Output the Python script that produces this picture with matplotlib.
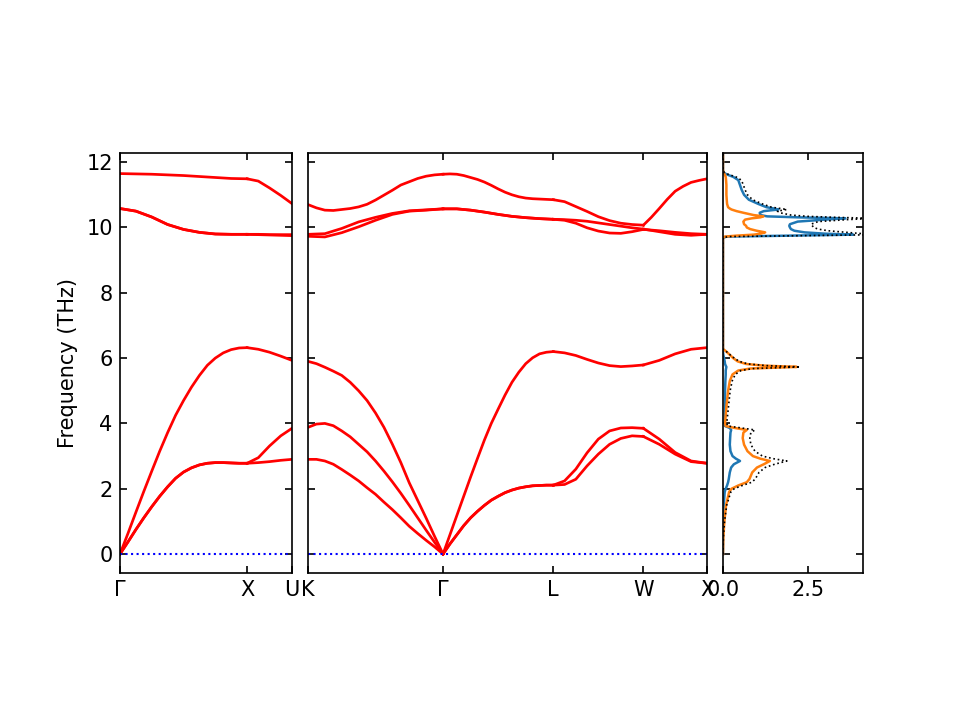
import matplotlib.pyplot as plt
import numpy as np

# Path segment lengths (2pi/a units), fcc: G-X, X-U | K-G, G-L, L-W, W-X
len_GX = 1.0
len_XU = np.sqrt(2) / 4
len_KG = 3 * np.sqrt(2) / 4
len_GL = np.sqrt(3) / 2
len_LW = np.sqrt(2) / 2
len_WX = 0.5

# Band frequencies (THz) read along each segment, one row per branch
# (points are evenly spaced along the segment)
band_GX = [
    [0, 0.37, 0.75, 1.11, 1.45, 1.77, 2.06, 2.32, 2.51, 2.64, 2.73, 2.78, 2.80, 2.80, 2.79, 2.78, 2.78],
    [0, 0.37, 0.75, 1.11, 1.45, 1.77, 2.06, 2.32, 2.51, 2.64, 2.73, 2.78, 2.80, 2.80, 2.79, 2.78, 2.78],
    [0, 0.63, 1.28, 1.92, 2.54, 3.15, 3.72, 4.25, 4.70, 5.11, 5.47, 5.78, 6.00, 6.16, 6.26, 6.31, 6.32],
    [10.58, 10.50, 10.32, 10.09, 9.94, 9.85, 9.80, 9.79, 9.79],
    [10.58, 10.50, 10.32, 10.09, 9.94, 9.85, 9.80, 9.79, 9.79],
    [11.65, 11.64, 11.63, 11.61, 11.59, 11.56, 11.53, 11.50, 11.49],
]
band_XU = [
    [2.78, 2.80, 2.83, 2.87, 2.90],
    [2.78, 2.95, 3.31, 3.62, 3.85],
    [6.32, 6.27, 6.18, 6.06, 5.93],
    [9.79, 9.78, 9.77, 9.76, 9.75],
    [9.79, 9.79, 9.78, 9.78, 9.78],
    [11.49, 11.42, 11.21, 10.98, 10.73],
]
band_KG = [
    [2.90, 2.90, 2.85, 2.75, 2.59, 2.42, 2.24, 2.03, 1.83, 1.59, 1.36, 1.11, 0.85, 0.63, 0.42, 0.22, 0],
    [3.88, 3.98, 4.00, 3.93, 3.77, 3.59, 3.36, 3.13, 2.85, 2.54, 2.21, 1.86, 1.49, 1.11, 0.73, 0.36, 0],
    [5.90, 5.83, 5.72, 5.60, 5.47, 5.26, 5.00, 4.70, 4.32, 3.88, 3.36, 2.80, 2.18, 1.64, 1.10, 0.54, 0],
    [9.73, 9.71, 9.84, 10.02, 10.22, 10.40, 10.50, 10.53, 10.57],
    [9.79, 9.81, 9.97, 10.17, 10.31, 10.43, 10.51, 10.54, 10.57],
    [10.70, 10.60, 10.53, 10.52, 10.55, 10.58, 10.63, 10.71, 10.84, 10.99, 11.14, 11.30, 11.40, 11.50, 11.57, 11.61, 11.63],
]
band_GL = [
    [0, 0.31, 0.59, 0.87, 1.11, 1.31, 1.49, 1.65, 1.77, 1.88, 1.96, 2.02, 2.06, 2.09, 2.10, 2.11, 2.11],
    [0, 0.31, 0.59, 0.87, 1.11, 1.31, 1.49, 1.65, 1.77, 1.88, 1.96, 2.02, 2.06, 2.09, 2.10, 2.11, 2.11],
    [0, 0.59, 1.18, 1.77, 2.36, 2.93, 3.49, 4.00, 4.44, 4.87, 5.26, 5.57, 5.83, 6.01, 6.13, 6.18, 6.20],
    [10.57, 10.57, 10.53, 10.47, 10.40, 10.34, 10.30, 10.27, 10.25],
    [10.57, 10.57, 10.53, 10.47, 10.40, 10.34, 10.30, 10.27, 10.25],
    [11.63, 11.64, 11.63, 11.59, 11.53, 11.47, 11.39, 11.29, 11.18, 11.08, 11.00, 10.94, 10.90, 10.88, 10.87, 10.86, 10.85],
]
band_LW = [
    [2.11, 2.13, 2.29, 2.70, 3.06, 3.36, 3.54, 3.62, 3.60],
    [2.11, 2.24, 2.60, 3.10, 3.52, 3.77, 3.86, 3.87, 3.85],
    [6.20, 6.16, 6.08, 5.96, 5.85, 5.77, 5.74, 5.76, 5.79],
    [10.25, 10.22, 10.13, 9.99, 9.89, 9.83, 9.82, 9.87, 9.94],
    [10.25, 10.24, 10.22, 10.19, 10.14, 10.09, 10.04, 9.99, 9.95],
    [10.85, 10.79, 10.64, 10.49, 10.33, 10.21, 10.13, 10.09, 10.07],
]
band_WX = [
    [3.60, 3.36, 3.06, 2.83, 2.78],
    [3.85, 3.52, 3.11, 2.85, 2.78],
    [5.79, 5.93, 6.13, 6.27, 6.32],
    [9.94, 9.90, 9.85, 9.81, 9.79],
    [9.95, 9.87, 9.79, 9.76, 9.79],
    [10.07, 10.31, 10.58, 10.86, 11.11, 11.26, 11.38, 11.44, 11.49],
]

labels_1 = ['$\\Gamma$', 'X', 'U']
labels_2 = ['K', '$\\Gamma$', 'L', 'W', 'X']

# Partial DOS (two atoms) on a frequency grid
dos_freq = [0, 0.5, 1.0, 1.5, 1.9, 2.0, 2.1, 2.2, 2.3, 2.5, 2.65, 2.75, 2.85, 2.92,
            3.0, 3.15, 3.35, 3.55, 3.72, 3.8, 3.86, 3.92, 4.0, 4.5, 5.0, 5.3, 5.5,
            5.62, 5.68, 5.73, 5.77, 5.82, 5.9, 6.0, 6.1, 6.2, 6.28, 6.35, 9.68,
            9.72, 9.75, 9.78, 9.81, 9.85, 9.9, 9.95, 10.0, 10.05, 10.1, 10.18,
            10.24, 10.28, 10.31, 10.34, 10.38, 10.45, 10.5, 10.55, 10.58, 10.62,
            10.72, 10.85, 11.0, 11.15, 11.3, 11.45, 11.55, 11.62, 11.68, 11.75, 12.3]
dos_atom1 = [0, 0, 0.005, 0.02, 0.05, 0.08, 0.12, 0.15, 0.17, 0.2, 0.24, 0.32, 0.5, 0.38,
             0.28, 0.22, 0.2, 0.21, 0.22, 0.24, 0.2, 0.06, 0.05, 0.06, 0.06, 0.07, 0.08,
             0.08, 0.09, 0.1, 0.08, 0.06, 0.05, 0.03, 0.01, 0, 0, 0, 0,
             0.1, 2.0, 3.83, 3.0, 2.4, 2.1, 2.0, 1.97, 1.95, 1.97, 2.2,
             3.0, 3.6, 2.2, 1.3, 1.1, 1.08, 1.2, 1.63, 1.5, 1.28,
             1.04, 0.76, 0.62, 0.55, 0.5, 0.45, 0.3, 0.12, 0.02, 0, 0]
dos_atom2 = [0, 0.01, 0.04, 0.09, 0.18, 0.25, 0.45, 0.7, 0.78, 0.86, 1.0, 1.2, 1.38, 1.1,
             0.88, 0.72, 0.62, 0.58, 0.6, 0.7, 0.35, 0.08, 0.06, 0.1, 0.15, 0.2, 0.28,
             0.45, 0.8, 2.17, 1.2, 0.68, 0.43, 0.3, 0.2, 0.1, 0, 0, 0,
             0.05, 0.4, 0.9, 1.1, 1.24, 0.99, 0.8, 0.7, 0.68, 0.62, 0.6,
             0.65, 0.85, 1.1, 1.19, 0.9, 0.6, 0.4, 0.25, 0.2, 0.15,
             0.12, 0.11, 0.1, 0.1, 0.1, 0.09, 0.08, 0.05, 0.02, 0, 0]

ymin, ymax = -0.58, 12.28


def draw_segments(ax, segs, lens):
    x0 = 0.0
    ticks = [0.0]
    for seg, L in zip(segs, lens):
        for branch in seg:
            x = np.linspace(x0, x0 + L, len(branch))
            ax.plot(x, branch, 'r-', lw=1.3)
        x0 += L
        ticks.append(x0)
    ax.plot([0, x0], [0, 0], 'b:', lw=1.0)
    ax.set_xlim(0, x0)
    return ticks


def style(ax):
    ax.tick_params(direction='in', top=True, right=True)
    ax.set_ylim(ymin, ymax)
    ax.set_yticks(range(0, 13, 2))


fig = plt.figure(figsize=(6.4, 4.8), dpi=150)
bottom, height = 147 / 720, 420 / 720
ax1 = fig.add_axes([120 / 960, bottom, 172 / 960, height])
ax2 = fig.add_axes([308 / 960, bottom, 399 / 960, height])
ax3 = fig.add_axes([723 / 960, bottom, 140 / 960, height])

# Band structure: G-X-U
t1 = draw_segments(ax1, [band_GX, band_XU], [len_GX, len_XU])
style(ax1)
ax1.set_xticks(t1)
ax1.set_xticklabels(labels_1)
ax1.set_ylabel('Frequency (THz)')

# Band structure: K-G-L-W-X
t2 = draw_segments(ax2, [band_KG, band_GL, band_LW, band_WX],
                   [len_KG, len_GL, len_LW, len_WX])
style(ax2)
ax2.set_xticks(t2)
ax2.set_xticklabels(labels_2)
ax2.set_yticklabels([])

# DOS
dos_total = np.array(dos_atom1) + np.array(dos_atom2)
ax3.plot(dos_atom1, dos_freq, color='C0', lw=1.2)
ax3.plot(dos_atom2, dos_freq, color='C1', lw=1.2)
ax3.plot(dos_total, dos_freq, 'k:', lw=0.8)
style(ax3)
ax3.set_xlim(0, 4.12)
ax3.set_xticks([0.0, 2.5])
ax3.set_yticklabels([])

fig.savefig('out.png', dpi=150)
